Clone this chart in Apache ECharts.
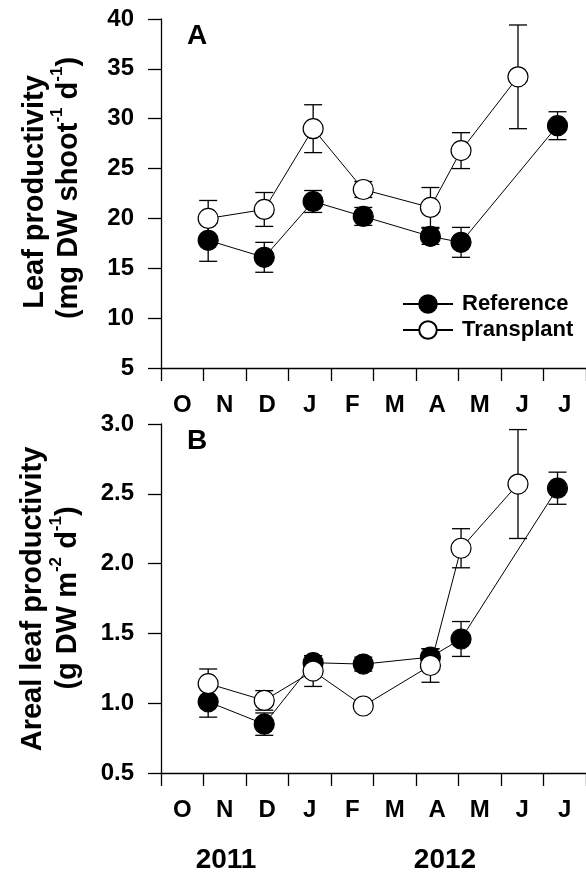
<!DOCTYPE html>
<html>
<head>
<meta charset="utf-8">
<script src="https://cdn.jsdelivr.net/npm/echarts@6/dist/echarts.min.js"></script>
<style>
html,body{margin:0;padding:0;background:#fff;}
#chart{width:586px;height:876px;}
</style>
</head>
<body>
<div id="chart"></div>
<script>
// ---- data ----
var monthLabels = ['O','N','D','J','F','M','A','M','J','J'];
var yearLabels = ['2011','2012'];
// sampling dates as month offsets from 1 Oct 2011
var refX = [1.11, 2.43, 3.58, 4.76, 6.34, 7.06, 9.33];
var traX = [1.11, 2.43, 3.58, 4.76, 6.34, 7.06, 8.40];
// Panel A: leaf productivity (mg DW shoot-1 d-1)
var refLeaf    = [17.8, 16.1, 21.7, 20.2, 18.2, 17.6, 29.3];
var refLeafErr = [2.1, 1.5, 1.1, 0.9, 0.8, 1.5, 1.4];
var traLeaf    = [20.0, 20.9, 29.0, 22.9, 21.1, 26.8, 34.2];
var traLeafErr = [1.8, 1.7, 2.4, 0.8, 2.0, 1.8, 5.2];
// Panel B: areal leaf productivity (g DW m-2 d-1)
var refAreal    = [1.01, 0.85, 1.29, 1.28, 1.33, 1.46, 2.54];
var refArealErr = [0.11, 0.08, 0.05, 0.05, 0.06, 0.125, 0.115];
var traAreal    = [1.14, 1.02, 1.23, 0.98, 1.27, 2.11, 2.57];
var traArealErr = [0.105, 0.07, 0.11, 0.02, 0.12, 0.14, 0.39];

var FONT = 'Liberation Sans, Arial, sans-serif';

function pairs(xs, ys) { return xs.map(function (x, i) { return [x, ys[i]]; }); }
function triples(xs, ys, es) { return xs.map(function (x, i) { return [x, ys[i], es[i]]; }); }

function errRender(params, api) {
  var x = api.value(0), y = api.value(1), e = api.value(2);
  var hi = api.coord([x, y + e]);
  var lo = api.coord([x, y - e]);
  var cw = 9;
  var st = { stroke: '#000', lineWidth: 1.3 };
  return {
    type: 'group',
    children: [
      { type: 'line', shape: { x1: hi[0], y1: hi[1], x2: lo[0], y2: lo[1] }, style: st },
      { type: 'line', shape: { x1: hi[0] - cw, y1: hi[1], x2: hi[0] + cw, y2: hi[1] }, style: st },
      { type: 'line', shape: { x1: lo[0] - cw, y1: lo[1], x2: lo[0] + cw, y2: lo[1] }, style: st }
    ]
  };
}

var lblStyle = { color: '#000', fontFamily: FONT, fontWeight: 'bold', fontSize: 24 };

function valueX(gi) {
  return {
    type: 'value', gridIndex: gi, min: 0, max: 10, interval: 1,
    axisLine: { show: true, onZero: false, lineStyle: { color: '#000', width: 1.3 } },
    axisTick: { show: true, inside: false, length: 13, lineStyle: { color: '#000', width: 1.3 } },
    axisLabel: { show: false }, splitLine: { show: false }
  };
}
function catX(gi) {
  return {
    type: 'category', gridIndex: gi, data: monthLabels, boundaryGap: true, position: 'bottom',
    axisLine: { show: false }, axisTick: { show: false },
    axisLabel: Object.assign({ margin: 25, interval: 0 }, lblStyle),
    splitLine: { show: false }
  };
}
function valueY(gi, min, max, itv, dec) {
  return {
    type: 'value', gridIndex: gi, min: min, max: max, interval: itv,
    axisLine: { show: true, onZero: false, lineStyle: { color: '#000', width: 1.3 } },
    axisTick: { show: true, inside: false, length: 13, lineStyle: { color: '#000', width: 1.3 } },
    axisLabel: Object.assign({ margin: 27, formatter: function (v) { return v.toFixed(dec); } }, lblStyle),
    splitLine: { show: false }
  };
}

function lineSeries(name, xi, yi, data, filled, z) {
  return {
    name: name, type: 'line', xAxisIndex: xi, yAxisIndex: yi, data: data,
    symbol: 'circle', symbolSize: 20, z: z,
    lineStyle: { color: '#000', width: 1 },
    itemStyle: { color: filled ? '#000' : '#fff', borderColor: '#000', borderWidth: 1.2 },
    emphasis: { disabled: true }
  };
}
function errSeries(xi, yi, data) {
  return { type: 'custom', xAxisIndex: xi, yAxisIndex: yi, data: data, renderItem: errRender, z: 1, silent: true };
}

var titleRich = {
  a: { fontFamily: FONT, fontWeight: 'bold', fontSize: 29, lineHeight: 34, fill: '#000', verticalAlign: 'bottom' },
  s: { fontFamily: FONT, fontWeight: 'bold', fontSize: 17, lineHeight: 34, fill: '#000', verticalAlign: 'top' }
};
function vText(x, y, text) {
  return {
    type: 'text', x: x, y: y, rotation: Math.PI / 2,
    style: { text: text, rich: titleRich, align: 'center', verticalAlign: 'middle', fill: '#000',
             font: 'bold 29px ' + FONT }
  };
}
function hText(x, y, text, size) {
  return {
    type: 'text', x: x, y: y,
    style: { text: text, align: 'center', verticalAlign: 'middle', fill: '#000',
             font: 'bold ' + size + 'px ' + FONT }
  };
}

var chart = echarts.init(document.getElementById('chart'), null, { renderer: 'canvas' });
chart.setOption({
  animation: false,
  backgroundColor: '#fff',
  grid: [
    { left: 161, top: 19, width: 427, height: 349 },
    { left: 161, top: 424, width: 427, height: 349 }
  ],
  xAxis: [valueX(0), catX(0), valueX(1), catX(1)],
  yAxis: [valueY(0, 5, 40, 5, 0), valueY(1, 0.5, 3.0, 0.5, 1)],
  legend: {
    data: ['Reference', 'Transplant'],
    orient: 'vertical', left: 397, top: 288, itemWidth: 50, itemHeight: 22, itemGap: 4,
    textStyle: { color: '#000', fontFamily: FONT, fontWeight: 'bold', fontSize: 22, padding: [0, 0, 0, 4] },
    selectedMode: false
  },
  series: [
    errSeries(0, 0, triples(refX, refLeaf, refLeafErr)),
    errSeries(0, 0, triples(traX, traLeaf, traLeafErr)),
    lineSeries('Reference', 0, 0, pairs(refX, refLeaf), true, 2),
    lineSeries('Transplant', 0, 0, pairs(traX, traLeaf), false, 3),
    errSeries(2, 1, triples(refX, refAreal, refArealErr)),
    errSeries(2, 1, triples(traX, traAreal, traArealErr)),
    lineSeries('Reference', 2, 1, pairs(refX, refAreal), true, 2),
    lineSeries('Transplant', 2, 1, pairs(traX, traAreal), false, 3)
  ],
  graphic: [
    vText(32, 192, '{a|Leaf productivity}'),
    vText(66, 188, '{a|(mg DW shoot}{s|-1}{a| d}{s|-1}{a|)}'),
    vText(30, 599, '{a|Areal leaf productivity}'),
    vText(65, 598, '{a|(g DW m}{s|-2}{a| d}{s|-1}{a|)}'),
    hText(197, 36, 'A', 28),
    hText(197, 441, 'B', 28),
    hText(226, 860, yearLabels[0], 28),
    hText(445, 860, yearLabels[1], 28)
  ]
});
</script>
</body>
</html>
